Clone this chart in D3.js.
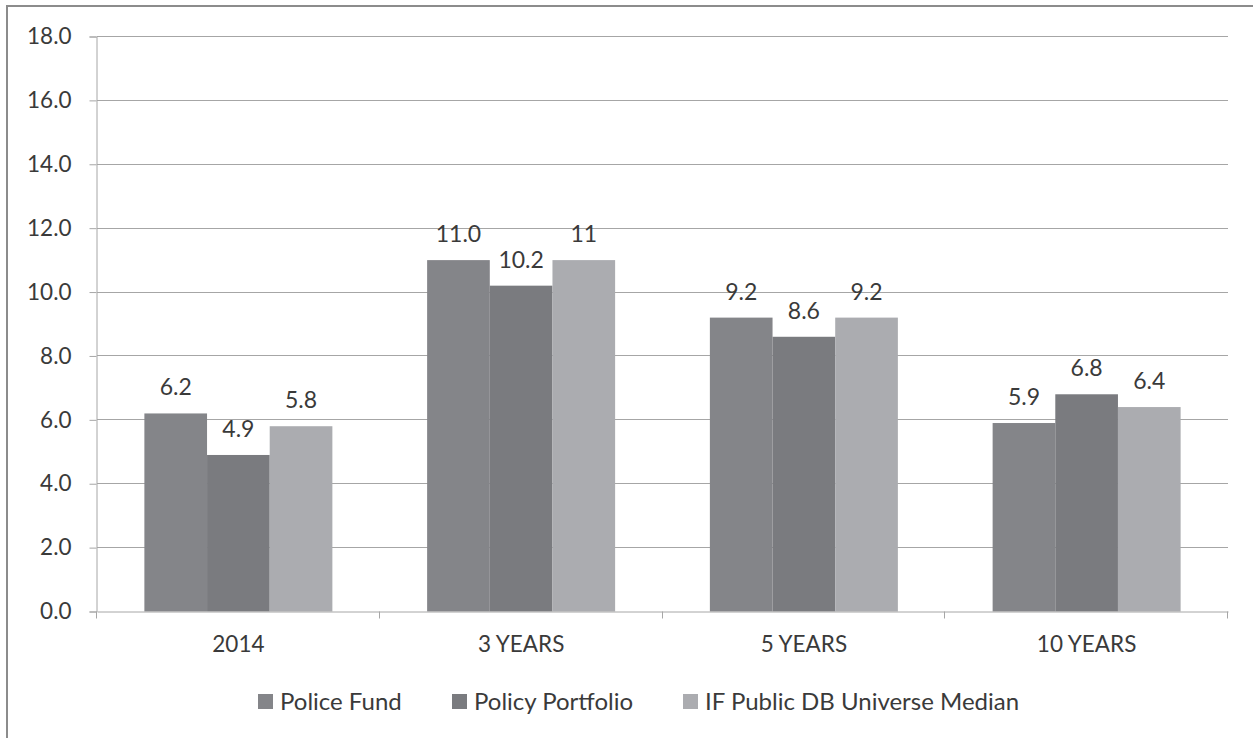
<!DOCTYPE html>
<html><head><meta charset="utf-8">
<script src="https://cdn.jsdelivr.net/npm/d3@7"></script>
<style>
html,body{margin:0;padding:0;background:#fff;}
svg{display:block;}
text{font-family:Lato,"Open Sans",sans-serif;fill:#3a3a3a;}
</style></head>
<body>
<script>
const categories = ["2014", "3 YEARS", "5 YEARS", "10 YEARS"];
const seriesNames = ["Police Fund", "Policy Portfolio", "IF Public DB Universe Median"];
const policeFund = [6.2, 11.0, 9.2, 5.9];
const policyPortfolio = [4.9, 10.2, 8.6, 6.8];
const universeMedian = [5.8, 11, 9.2, 6.4];
const policeFundLabels = ["6.2", "11.0", "9.2", "5.9"];
const policyPortfolioLabels = ["4.9", "10.2", "8.6", "6.8"];
const universeMedianLabels = ["5.8", "11", "9.2", "6.4"];
const yTicks = [0, 2, 4, 6, 8, 10, 12, 14, 16, 18];
const colors = ["#848589", "#7a7b7f", "#abacb0"];

(function () {
const W = 1253, H = 738;
const svg = d3.select("body").append("svg").attr("width", W).attr("height", H);

// frame
svg.append("line").attr("x1", 7).attr("x2", W).attr("y1", 6).attr("y2", 6).attr("stroke", "#8c8c8c").attr("stroke-width", 2);
svg.append("line").attr("x1", 7).attr("x2", 7).attr("y1", 5).attr("y2", H).attr("stroke", "#8c8c8c").attr("stroke-width", 2);

const mLeft = 97, mRight = 1228, mTop = 36.5, mBottom = 611.5;
const x = d3.scaleBand().domain(categories).range([mLeft, mRight]).paddingInner(0).paddingOuter(0);
const y = d3.scaleLinear().domain([0, 18]).range([mBottom, mTop]);
const groupW = 188;
const inner = d3.scaleBand().domain(seriesNames).range([0, groupW]);
const off = (x.bandwidth() - groupW) / 2;

// gridlines
svg.append("g").selectAll("line").data(yTicks.filter(d => d > 0)).join("line")
  .attr("x1", mLeft).attr("x2", mRight)
  .attr("y1", d => Math.floor(y(d)) + 0.5).attr("y2", d => Math.floor(y(d)) + 0.5)
  .attr("stroke", "#a6a6a6").attr("stroke-width", 1);

// y axis
const yAxis = svg.append("g").attr("transform", `translate(${mLeft - 0.5},0)`)
  .call(d3.axisLeft(y).tickValues(yTicks).tickFormat(d3.format(".1f")).tickSize(7).tickPadding(18));
yAxis.select(".domain").attr("stroke", "#a6a6a6");
yAxis.selectAll(".tick line").attr("stroke", "#a6a6a6");
yAxis.selectAll("text").style("font-size", "22.5px").attr("fill", "#3a3a3a").style("font-family", "Lato, 'Open Sans', sans-serif");

// bars
const seriesVals = [policeFund, policyPortfolio, universeMedian];
const seriesLabels = [policeFundLabels, policyPortfolioLabels, universeMedianLabels];
seriesNames.forEach((name, si) => {
  const g = svg.append("g");
  g.selectAll("rect").data(categories).join("rect")
    .attr("x", c => x(c) + off + inner(name))
    .attr("width", inner.bandwidth())
    .attr("y", (c, i) => y(seriesVals[si][i]))
    .attr("height", (c, i) => y(0) - y(seriesVals[si][i]))
    .attr("fill", colors[si]);
  g.selectAll("text").data(categories).join("text")
    .attr("x", c => x(c) + off + inner(name) + inner.bandwidth() / 2)
    .attr("y", (c, i) => y(seriesVals[si][i]) - 18)
    .attr("text-anchor", "middle")
    .style("font-size", "23px")
    .text((c, i) => seriesLabels[si][i]);
});

// x axis
const xAxis = svg.append("g").attr("transform", `translate(0,${Math.floor(mBottom) + 0.5})`)
  .call(d3.axisBottom(x).tickSize(0).tickPadding(25));
xAxis.select(".domain").attr("stroke", "#a6a6a6");
xAxis.selectAll("text").style("font-size", "22.5px").attr("fill", "#3a3a3a").style("font-family", "Lato, 'Open Sans', sans-serif");
const bounds = categories.map(c => x(c)).concat([mRight]);
svg.append("g").selectAll("line").data(bounds).join("line")
  .attr("x1", d => Math.round(d) - 0.5).attr("x2", d => Math.round(d) - 0.5)
  .attr("y1", mBottom).attr("y2", mBottom + 7)
  .attr("stroke", "#a6a6a6");

// legend
const legendX = [258, 452, 683];
const lg = svg.append("g");
seriesNames.forEach((name, i) => {
  lg.append("rect").attr("x", legendX[i]).attr("y", 694).attr("width", 15).attr("height", 15).attr("fill", colors[i]);
  lg.append("text").attr("x", legendX[i] + 22).attr("y", 710).style("font-size", "24px").text(name);
});
})();
</script>
</body></html>
